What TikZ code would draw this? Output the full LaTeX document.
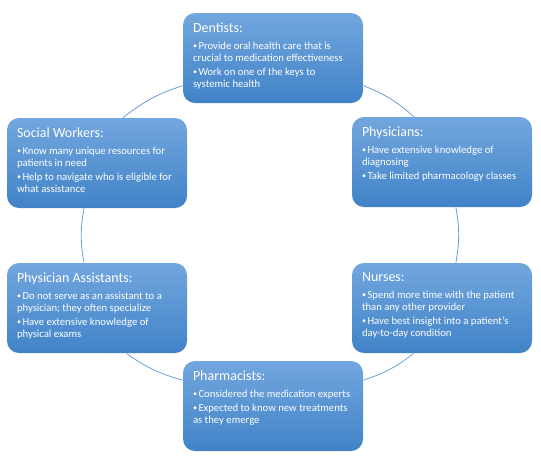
\documentclass[tikz,border=0pt]{standalone}
\usepackage{fontspec}
\setmainfont{Carlito}
\usetikzlibrary{positioning}
\definecolor{btop}{HTML}{72A6DE}
\definecolor{bbot}{HTML}{4183C8}
\definecolor{cring}{HTML}{6B9FD9}
\newcommand{\boxtitle}[1]{{\fontsize{14}{16}\selectfont #1\par}\vspace{2.5pt}}
\newcommand{\bitem}[1]{\par\vspace{2pt}\hangindent=5.5pt\hangafter=1\noindent\makebox[5.5pt][l]{\raisebox{0.6pt}{\scalebox{0.75}{\textbullet}}}#1}
\newcommand{\cardtext}[2]{\begin{minipage}[t][70pt][t]{160pt}\raggedright\boxtitle{#1}\fontsize{10.7}{12}\selectfont #2\end{minipage}}
\tikzset{
  every picture/.style={line width=0.8pt},
  card/.style={rounded corners=12pt, top color=btop, bottom color=bbot, draw=none,
    text=white, inner sep=10pt, minimum width=180pt, minimum height=90pt},
  ring/.style={draw=cring, line width=0.8pt, bend left=10},
}
\begin{document}
\begin{tikzpicture}[x=1pt, y=-1pt]
  \useasboundingbox (0,0) rectangle (541,459);
  % the six cards
  \node[card] (dent) at (273,58) {\cardtext{Dentists:}{%
    \bitem{Provide oral health care that is\\crucial to medication effectiveness}
    \bitem{Work on one of the keys to\\systemic health}}};
  \node[card] (phys) at (442,162) {\cardtext{Physicians:}{%
    \bitem{Have extensive knowledge of\\diagnosing}
    \bitem{Take limited pharmacology classes}}};
  \node[card] (nurs) at (442,308) {\cardtext{Nurses:}{%
    \bitem{Spend more time with the patient\\than any other provider}
    \bitem{Have best insight into a patient's\\day-to-day condition}}};
  \node[card] (pharm) at (273,406) {\cardtext{Pharmacists:}{%
    \bitem{Considered the medication experts}
    \bitem{Expected to know new treatments\\as they emerge}}};
  \node[card] (pa) at (97,308) {\cardtext{Physician Assistants:}{%
    \bitem{Do not serve as an assistant to a\\physician; they often specialize}
    \bitem{Have extensive knowledge of\\physical exams}}};
  \node[card] (sw) at (97,163) {\cardtext{Social Workers:}{%
    \bitem{Know many unique resources for\\patients in need}
    \bitem{Help to navigate who is eligible for\\what assistance}}};
  % ring between the cards
  \draw[ring] (sw.60) to (dent.197);
  \draw[ring] (dent.-17) to (phys.122);
  \draw[ring] (phys.-73) to (nurs.73);
  \draw[ring] (nurs.238) to (pharm.16);
  \draw[ring] (pharm.164) to (pa.-57);
  \draw[ring] (pa.106) to (sw.254);
\end{tikzpicture}
\end{document}
